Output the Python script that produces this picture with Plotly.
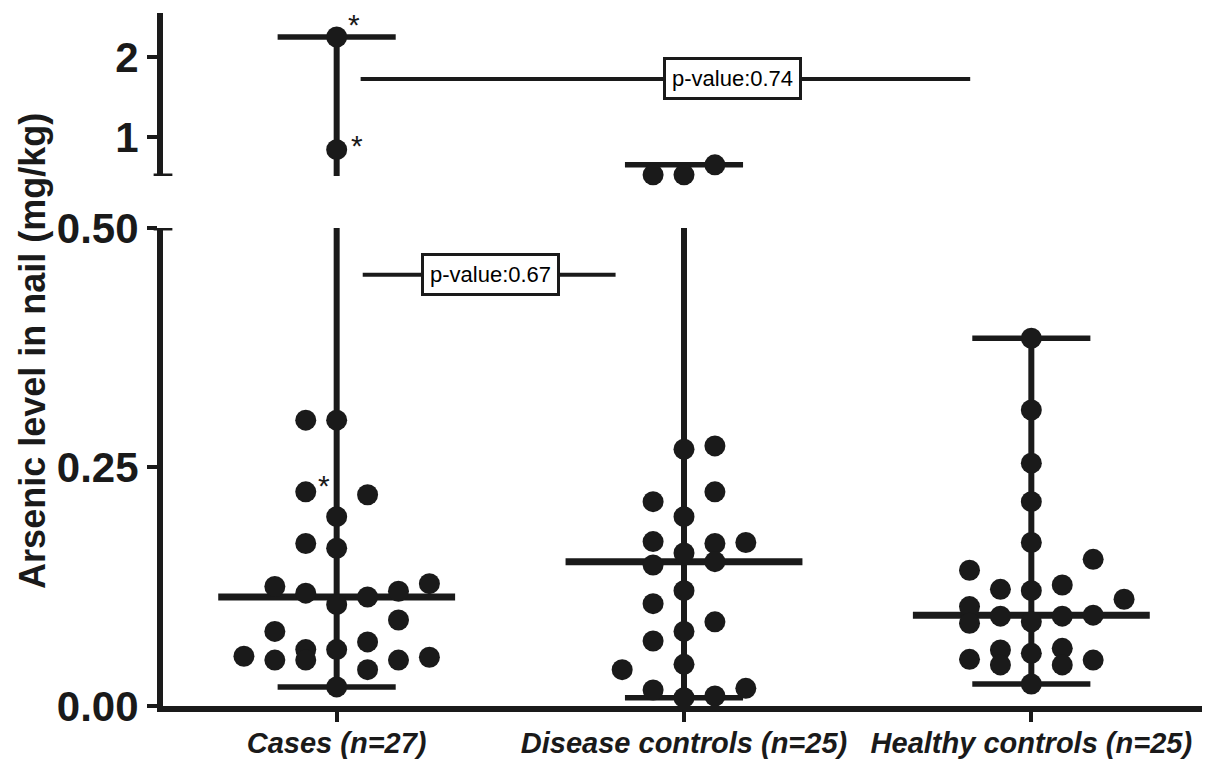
import numpy as np
import plotly.graph_objects as go

# ---------------- data ----------------
categories = ["Cases (n=27)", "Disease controls (n=25)", "Healthy controls (n=25)"]

cases_values = [0.299, 0.299, 0.224, 0.221, 0.198, 0.170, 0.165, 0.125, 0.118, 0.128,
                0.120, 0.114, 0.106, 0.090, 0.078, 0.067, 0.052, 0.048, 0.059, 0.048,
                0.059, 0.038, 0.048, 0.051, 0.020, 0.84, 2.25]
cases_slots = [-1, 0, -1, 1, 0, -1, 0, -2, -1, 3,
               2, 1, 0, 2, -2, 1, -3, -2, -1, -1,
               0, 1, 2, 3, 0, 0, 0]

disease_values = [0.2685, 0.272, 0.224, 0.2137, 0.198, 0.172, 0.170, 0.171, 0.160, 0.1475,
                  0.151, 0.1206, 0.107, 0.088, 0.078, 0.068, 0.0436, 0.038, 0.0167, 0.0185,
                  0.0087, 0.0105, 0.525, 0.525, 0.65]
disease_slots = [0, 1, 1, -1, 0, -1, 1, 2, 0, -1,
                 1, 0, -1, 1, 0, -1, 0, -2, -1, 2,
                 0, 1, -1, 0, 1]

healthy_values = [0.3846, 0.3096, 0.254, 0.2137, 0.171, 0.1534, 0.142, 0.122, 0.1206, 0.1266,
                  0.1116, 0.104, 0.0865, 0.094, 0.088, 0.094, 0.095, 0.0488, 0.0586, 0.043,
                  0.0551, 0.0603, 0.043, 0.048, 0.023]
healthy_slots = [0, 0, 0, 0, 0, 2, -2, -1, 0, 1,
                 3, -2, -2, -1, 0, 1, 2, -2, -1, -1,
                 0, 1, 1, 2, 0]

cases_flagged = [0.224, 0.84, 2.25]   # values marked with *

lower_ticks = [0.0, 0.25, 0.50]
lower_ticktext = ["0.00", "0.25", "0.50"]
upper_ticks = [1, 2]
upper_ticktext = ["1", "2"]

pvalue_texts = ["p-value:0.67", "p-value:0.74"]

# ---------------- styling / geometry ----------------
INK = "#1a1a1a"
FONT = "Liberation Sans, Arial, sans-serif"
BREAK_LOW = 0.50           # top of lower segment
UPPER_RANGE = [0.51, 2.55]
SLOT = 0.089               # horizontal spacing of swarm columns
MED_HALF = 0.341
CAP_HALF = 0.17
PAGE_OFFSET = 8            # default body margin of the html page
STAR_SHIFTS = {0.224: (18, 6), 0.84: (20, 4), 2.25: (17, 12)}

groups = [
    (cases_values, cases_slots),
    (disease_values, disease_slots),
    (healthy_values, healthy_slots),
]

fig = go.Figure()


def add_line(xs, ys, axis, width):
    fig.add_trace(go.Scatter(x=xs, y=ys, mode="lines", yaxis=axis,
                             line=dict(color=INK, width=width),
                             cliponaxis=False, hoverinfo="skip", showlegend=False))


for i, (vals, slots) in enumerate(groups):
    pos = i + 1
    v = np.array(vals)
    med, vmin, vmax = np.median(v), v.min(), v.max()
    # vertical range line
    add_line([pos, pos], [vmin, min(vmax, BREAK_LOW)], "y", 6)
    if vmax > BREAK_LOW:
        add_line([pos, pos], [UPPER_RANGE[0], vmax], "y2", 6)
    # median line
    add_line([pos - MED_HALF, pos + MED_HALF], [med, med], "y", 7)
    # whisker caps
    add_line([pos - CAP_HALF, pos + CAP_HALF], [vmin, vmin], "y", 5.5)
    add_line([pos - CAP_HALF, pos + CAP_HALF], [vmax, vmax],
             "y2" if vmax > BREAK_LOW else "y", 5.5)

# p-value comparison lines
add_line([1.075, 1.803], [0.451, 0.451], "y", 4)
add_line([1.069, 2.824], [1.725, 1.725], "y2", 4)

# points
for i, (vals, slots) in enumerate(groups):
    pos = i + 1
    v = np.array(vals)
    xs = pos + np.array(slots) * SLOT
    low = v <= BREAK_LOW
    for mask, axis in ((low, "y"), (~low, "y2")):
        if mask.any():
            fig.add_trace(go.Scatter(x=xs[mask], y=v[mask], mode="markers", yaxis=axis,
                                     marker=dict(size=21, color=INK),
                                     cliponaxis=False, hoverinfo="skip", showlegend=False))

annotations = []
# asterisks
for val in cases_flagged:
    idx = cases_values.index(val)
    x = 1 + cases_slots[idx] * SLOT
    dx, dy = STAR_SHIFTS[val]
    annotations.append(dict(x=x, y=val, xref="x", yref="y2" if val > BREAK_LOW else "y",
                            text="*", showarrow=False, xshift=dx, yshift=dy,
                            font=dict(family=FONT, size=30, color=INK)))
# p-value boxes
for txt, x, y, yref in ((pvalue_texts[0], 1.443, 0.451, "y"), (pvalue_texts[1], 2.141, 1.725, "y2")):
    annotations.append(dict(x=x, y=y, xref="x", yref=yref, text=txt, showarrow=False,
                            font=dict(family=FONT, size=22, color="black"),
                            bgcolor="white", bordercolor=INK, borderwidth=3, borderpad=6))
# y-axis title
annotations.append(dict(x=-0.126, y=0.512, xref="paper", yref="paper",
                        xanchor="center", yanchor="middle",
                        text="Arsenic level in nail (mg/kg)", textangle=-90, showarrow=False,
                        font=dict(family=FONT, size=36, color=INK, weight="bold")))

shapes = [
    # caps at the ends of the broken axis
    dict(type="line", xref="x domain", yref="y", x0=-0.009, x1=0.009, y0=BREAK_LOW, y1=BREAK_LOW,
         line=dict(color=INK, width=5)),
    dict(type="line", xref="x domain", yref="y2", x0=-0.009, x1=0.009,
         y0=UPPER_RANGE[0], y1=UPPER_RANGE[0], line=dict(color=INK, width=5)),
]

axis_common = dict(showgrid=False, zeroline=False, showline=True, linecolor=INK, linewidth=6,
                   ticks="outside", ticklen=10, tickwidth=4, tickcolor=INK, automargin=False)

fig.update_layout(
    template="none",
    width=1210 - PAGE_OFFSET, height=763 - PAGE_OFFSET,
    margin=dict(l=163 - PAGE_OFFSET, r=5, t=13 - PAGE_OFFSET, b=57, autoexpand=False),
    paper_bgcolor="white", plot_bgcolor="white",
    showlegend=False,
    xaxis=dict(range=[0.5, 3.5], tickvals=[1, 2, 3], ticktext=categories,
               tickfont=dict(family=FONT, size=29, color=INK, weight="bold", style="italic"),
               ticklabelstandoff=-4,
               **axis_common),
    yaxis=dict(domain=[0, 0.6898], range=[0, BREAK_LOW], tickvals=lower_ticks,
               ticktext=lower_ticktext,
               tickfont=dict(family=FONT, size=42, color=INK, weight="bold"), **axis_common),
    yaxis2=dict(domain=[0.7648, 1], range=UPPER_RANGE, anchor="x", tickvals=upper_ticks,
                ticktext=upper_ticktext,
                tickfont=dict(family=FONT, size=42, color=INK, weight="bold"), **axis_common),
    annotations=annotations,
    shapes=shapes,
)

fig.write_html("out.html")
